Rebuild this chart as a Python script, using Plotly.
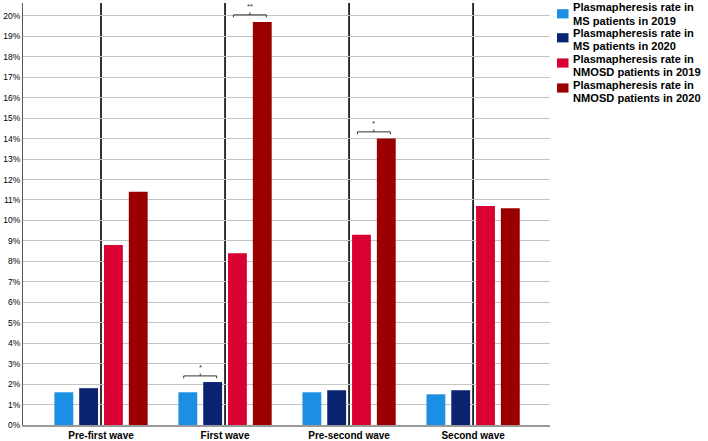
import plotly.graph_objects as go

categories = ["Pre-first wave", "First wave", "Pre-second wave", "Second wave"]
series_names = [
    "Plasmapheresis rate in<br>MS patients in 2019",
    "Plasmapheresis rate in<br>MS patients in 2020",
    "Plasmapheresis rate in<br>NMOSD patients in 2019",
    "Plasmapheresis rate in<br>NMOSD patients in 2020",
]
ms_2019 = [1.6, 1.6, 1.6, 1.5]
ms_2020 = [1.8, 2.1, 1.7, 1.7]
nmosd_2019 = [8.8, 8.4, 9.3, 10.7]
nmosd_2020 = [11.4, 19.7, 14.0, 10.6]
y_ticks = list(range(0, 21))

# significance brackets: (category index, pair side -1=MS / +1=NMOSD, bracket level %, label)
sig_cat = [1, 1, 2]
sig_side = [-1, 1, 1]
sig_level = [2.4, 20.05, 14.33]
sig_label = ["*", "**", "*"]

colors = ["#1b8fe3", "#0b2470", "#d90032", "#9b0000"]
series = [ms_2019, ms_2020, nmosd_2019, nmosd_2020]
xs = list(range(len(categories)))

fig = go.Figure()
for name, vals, col in zip(series_names, series, colors):
    fig.add_trace(go.Bar(x=xs, y=vals, name=name, marker=dict(color=col, line=dict(width=0)),
                         showlegend=False, hoverinfo="skip"))

L, R, T, B = 23, 550, 3, 425
def xp(px):
    return (px - L) / (R - L)
def yp(py):
    return (B - py) / (B - T)

shapes = []
# vertical category lines
for i in xs:
    shapes.append(dict(type="line", xref="x", yref="paper", x0=i, x1=i, y0=0, y1=1,
                       line=dict(color="#000000", width=1.6), layer="below"))

ann = []
# brackets
for c, s, lvl, lab in zip(sig_cat, sig_side, sig_level, sig_label):
    cx = c + 0.2 * s
    hw = 0.133
    d = 0.12
    shapes.append(dict(type="line", x0=cx - hw, x1=cx + hw, y0=lvl, y1=lvl,
                       line=dict(color="#333333", width=1)))
    shapes.append(dict(type="line", x0=cx - hw, x1=cx - hw, y0=lvl, y1=lvl - d,
                       line=dict(color="#333333", width=1)))
    shapes.append(dict(type="line", x0=cx + hw, x1=cx + hw, y0=lvl, y1=lvl - d,
                       line=dict(color="#333333", width=1)))
    shapes.append(dict(type="line", x0=cx, x1=cx, y0=lvl, y1=lvl + d,
                       line=dict(color="#333333", width=1)))
    ann.append(dict(x=cx, y=lvl + 0.08, xref="x", yref="y", text=lab, showarrow=False,
                    yanchor="bottom", font=dict(size=8, color="#333333",
                                                family="Liberation Sans")))

# manual legend
sq_centers = [13.8, 37.8, 63, 88]
line1_centers = [7.2, 33.3, 59.3, 85.3]
line2_centers = [21, 46.2, 72, 97.7]
for name, col, cy, l1, l2 in zip(series_names, colors, sq_centers, line1_centers, line2_centers):
    shapes.append(dict(type="rect", xref="paper", yref="paper",
                       x0=xp(557), x1=xp(568.5), y0=yp(cy - 4.6), y1=yp(cy + 4.6),
                       fillcolor=col, line=dict(width=0)))
    for txt, ly in zip(name.split("<br>"), [l1, l2]):
        ann.append(dict(x=xp(570.5), y=yp(ly), xref="paper", yref="paper", text="<b>" + txt + "</b>",
                        showarrow=False, xanchor="left", yanchor="middle", align="left",
                        font=dict(size=11.1, color="#000000", family="Liberation Sans")))

fig.update_layout(
    width=708, height=441,
    margin=dict(l=L, r=708 - R, t=T, b=441 - B, autoexpand=False),
    paper_bgcolor="white", plot_bgcolor="white",
    barmode="group", bargap=0.2, bargroupgap=0.24,
    shapes=shapes, annotations=ann, hovermode=False,
    font=dict(family="Liberation Sans", color="#000000"),
    xaxis=dict(range=[-0.629, 3.62], tickvals=xs, ticktext=["<b>%s</b>" % c for c in categories],
               showgrid=False, zeroline=False, showline=True, linecolor="#9a9a9a", linewidth=2,
               ticks="", tickfont=dict(size=10, color="#000000"), automargin=False),
    yaxis=dict(range=[0, 20.63], tickvals=y_ticks, ticktext=["%d%%" % v for v in y_ticks],
               showgrid=True, gridcolor="#c4c4c4", gridwidth=1, zeroline=False,
               showline=True, linecolor="#555555", linewidth=1, ticks="",
               tickfont=dict(size=8.5, color="#000000"), automargin=False),
)

fig.write_html("out.html", config={"displayModeBar": False},
               post_script="document.body.style.margin='0';document.body.style.overflow='hidden';")
